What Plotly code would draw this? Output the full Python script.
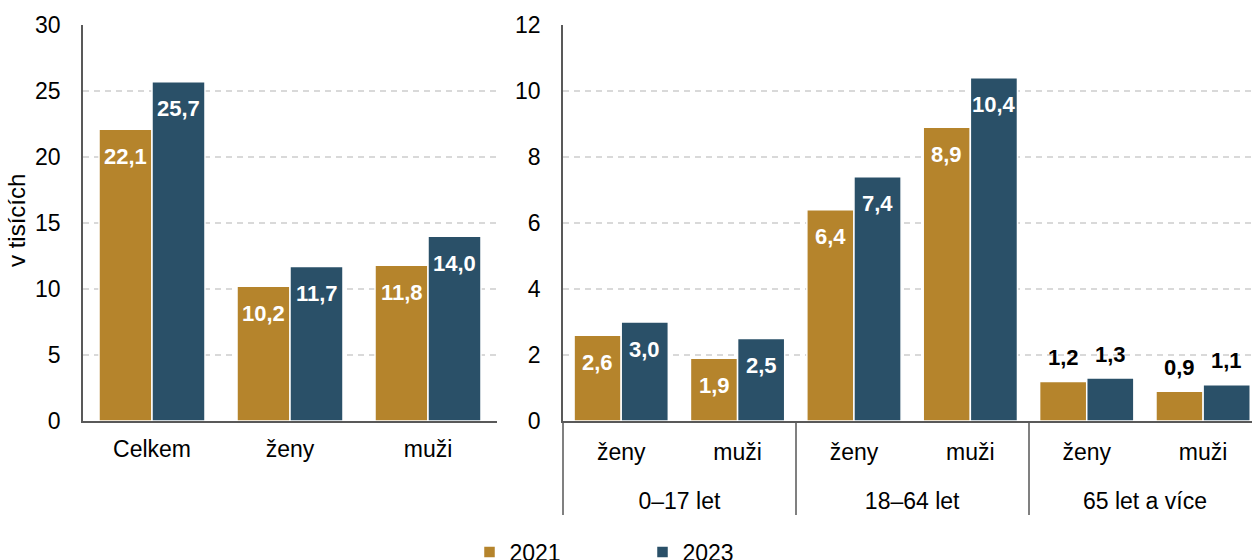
import plotly.graph_objects as go

# ---- data ----
years = ["2021", "2023"]

left_categories = ["Celkem", "ženy", "muži"]
left_2021 = [22.1, 10.2, 11.8]
left_2023 = [25.7, 11.7, 14.0]

age_groups = ["0–17 let", "0–17 let", "18–64 let", "18–64 let", "65 let a více", "65 let a více"]
sexes = ["ženy", "muži", "ženy", "muži", "ženy", "muži"]
right_2021 = [2.6, 1.9, 6.4, 8.9, 1.2, 0.9]
right_2023 = [3.0, 2.5, 7.4, 10.4, 1.3, 1.1]

left_ticks = [0, 5, 10, 15, 20, 25, 30]
right_ticks = [0, 2, 4, 6, 8, 10, 12]
y_title = "v tisících"

# ---- style ----
W, H = 1252, 560
FONT = "Arial, 'Liberation Sans', sans-serif"
COLORS = {"2021": "#B5842C", "2023": "#2A5068"}
WL, WR = 0.384, 0.405
GRID = dict(showgrid=True, gridcolor="#d9d9d9", griddash="6px,5px", gridwidth=1.5)


def fmt(v):
    return f"{v:.1f}".replace(".", ",")


fig = go.Figure()
annotations = []

left_series = [left_2021, left_2023]
right_series = [right_2021, right_2023]
# outer level labels pushed one line lower (below the inner level)
outer_labels = ["<br>" + g for g in age_groups]

for k, yr in enumerate(years):
    fig.add_trace(go.Bar(
        x=left_categories, y=left_series[k], name=yr,
        marker=dict(color=COLORS[yr], line=dict(color="white", width=1.5)),
        width=WL, offset=-WL + k * WL,
        xaxis="x", yaxis="y", legendgroup=yr, showlegend=True,
    ))
    fig.add_trace(go.Bar(
        x=[outer_labels, sexes], y=right_series[k], name=yr,
        marker=dict(color=COLORS[yr], line=dict(color="white", width=1.5)),
        width=WR, offset=-WR + k * WR,
        xaxis="x2", yaxis="y2", legendgroup=yr, showlegend=False,
    ))
    # value labels
    for vals, w, xr, yr_ref, ymax in [(left_series[k], WL, "x", "y", left_ticks[-1]),
                                       (right_series[k], WR, "x2", "y2", right_ticks[-1])]:
        for i, v in enumerate(vals):
            inside = v / ymax > 0.12
            annotations.append(dict(
                x=i - w + k * w + w / 2, y=v, xref=xr, yref=yr_ref,
                text=f"<b>{fmt(v)}</b>", showarrow=False,
                yanchor="middle", xanchor="center",
                yshift=-27 if inside else 24,
                font=dict(family=FONT, size=22, color="white" if inside else "black"),
            ))

# y-axis title
annotations.append(dict(
    text=y_title, xref="paper", yref="paper", x=16 / W, y=0.505,
    textangle=-90, showarrow=False, xanchor="center", yanchor="middle",
    font=dict(family=FONT, size=24, color="black"),
))

fig.update_layout(
    width=W, height=H,
    margin=dict(l=0, r=0, t=25, b=139, autoexpand=False),
    paper_bgcolor="white", plot_bgcolor="white",
    font=dict(family=FONT, size=23, color="black"),
    barmode="group",
    showlegend=True,
    legend=dict(orientation="h", x=0.375, xanchor="left", y=-0.331, yanchor="middle",
                font=dict(family=FONT, size=23, color="black"),
                entrywidth=128, entrywidthmode="pixels", traceorder="normal"),
    annotations=annotations,
    xaxis=dict(domain=[83 / W, 497 / W], type="category", range=[-0.5, 2.5],
               showline=True, linecolor="#595959", linewidth=2, ticks="",
               tickfont=dict(size=23), ticklabelstandoff=6, showgrid=False),
    yaxis=dict(domain=[0, 1], range=[0, left_ticks[-1]], tickvals=left_ticks,
               showline=True, linecolor="#595959", linewidth=1.5, zeroline=False,
               tickfont=dict(size=23), ticklabelstandoff=16, **GRID),
    # the reference chart is cropped at its right edge: last category is partly cut
    xaxis2=dict(domain=[563 / W, 1], type="multicategory", anchor="y2",
                range=[-0.5, 5.42],
                showline=True, linecolor="#595959", linewidth=2, ticks="",
                showdividers=True, dividercolor="#808080", dividerwidth=1.5,
                tickfont=dict(size=23), ticklabelstandoff=9, showgrid=False),
    yaxis2=dict(domain=[0, 1], anchor="x2", range=[0, right_ticks[-1]], tickvals=right_ticks,
                showline=True, linecolor="#595959", linewidth=1.5, zeroline=False,
                tickfont=dict(size=23), ticklabelstandoff=16, **GRID),
)

fig.write_html("out.html", config={"displayModeBar": False},
               post_script="document.body.style.margin='0';document.body.style.overflow='hidden';")
